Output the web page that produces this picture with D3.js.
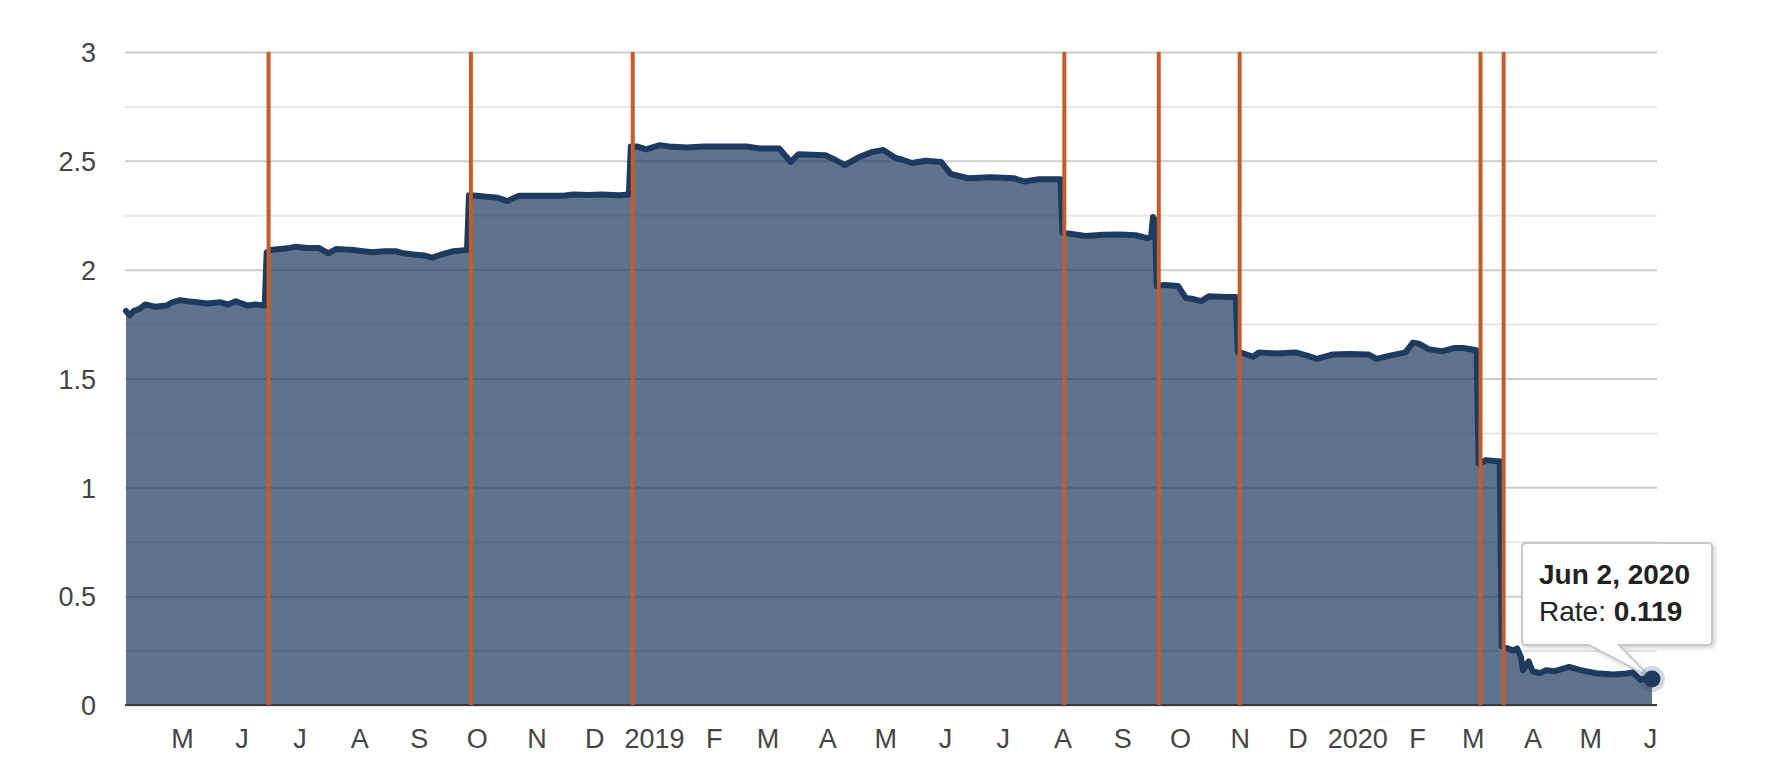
<!DOCTYPE html>
<html>
<head>
<meta charset="utf-8">
<title>Rate</title>
<script src="https://cdn.jsdelivr.net/npm/d3@7"></script>
<style>
    html, body { margin: 0; padding: 0; background: #fff; }
    #chart { width: 1772px; height: 780px; }
    .axis text { font-family: "Liberation Sans", Arial, sans-serif; font-size: 27px; fill: #444; }
    .tooltip-text { font-family: "Liberation Sans", Arial, sans-serif; font-size: 28px; fill: #222; }
</style>
</head>
<body>
<div id="chart"></div>
<script>
// ---- data ----
const rateDates = [
    "2018-04-02", "2018-04-04", "2018-04-06", "2018-04-09", "2018-04-12", "2018-04-17", "2018-04-23",
    "2018-04-26", "2018-04-30", "2018-05-04", "2018-05-09", "2018-05-14", "2018-05-21", "2018-05-25",
    "2018-05-29", "2018-06-04", "2018-06-08", "2018-06-13",
    "2018-06-14", "2018-06-16", "2018-06-21", "2018-06-26", "2018-06-29", "2018-07-05", "2018-07-11",
    "2018-07-16", "2018-07-20", "2018-07-29", "2018-08-03", "2018-08-08", "2018-08-14", "2018-08-20",
    "2018-08-24", "2018-08-29", "2018-09-04", "2018-09-08", "2018-09-13", "2018-09-19", "2018-09-26",
    "2018-09-27", "2018-10-01", "2018-10-06", "2018-10-12", "2018-10-17", "2018-10-23", "2018-10-31",
    "2018-11-09", "2018-11-15", "2018-11-20", "2018-11-28", "2018-12-05", "2018-12-14", "2018-12-19",
    "2018-12-20", "2018-12-23", "2018-12-28", "2019-01-04", "2019-01-09", "2019-01-18", "2019-01-27",
    "2019-02-05", "2019-02-18", "2019-02-25", "2019-03-07", "2019-03-13", "2019-03-17", "2019-03-24",
    "2019-03-31", "2019-04-05", "2019-04-10", "2019-04-17", "2019-04-24", "2019-04-30", "2019-05-06",
    "2019-05-10", "2019-05-15", "2019-05-22", "2019-05-30", "2019-06-04", "2019-06-13", "2019-06-25",
    "2019-07-07", "2019-07-12", "2019-07-20", "2019-07-31",
    "2019-08-01", "2019-08-04", "2019-08-13", "2019-08-22", "2019-08-31", "2019-09-08", "2019-09-14",
    "2019-09-16", "2019-09-17", "2019-09-18",
    "2019-09-19", "2019-09-23", "2019-09-30", "2019-10-04", "2019-10-08", "2019-10-12", "2019-10-16",
    "2019-10-25", "2019-10-30",
    "2019-10-31", "2019-11-03", "2019-11-08", "2019-11-11", "2019-11-20", "2019-11-30", "2019-12-06",
    "2019-12-11", "2019-12-19", "2019-12-28", "2020-01-07", "2020-01-11", "2020-01-18", "2020-01-26",
    "2020-01-30", "2020-02-02", "2020-02-07", "2020-02-14", "2020-02-20", "2020-02-25", "2020-03-03",
    "2020-03-04", "2020-03-08", "2020-03-13", "2020-03-15",
    "2020-03-16", "2020-03-19", "2020-03-22", "2020-03-24", "2020-03-26", "2020-03-27", "2020-03-30",
    "2020-04-01", "2020-04-05", "2020-04-08", "2020-04-12", "2020-04-16", "2020-04-20", "2020-04-26",
    "2020-05-04", "2020-05-13", "2020-05-20", "2020-05-23", "2020-05-27", "2020-05-30", "2020-06-02"
];

const rateValues = [
    1.81, 1.79, 1.81, 1.82, 1.84, 1.83, 1.835,
    1.85, 1.86, 1.855, 1.85, 1.845, 1.85, 1.84,
    1.855, 1.835, 1.84, 1.835,
    2.08, 2.09, 2.095, 2.10, 2.105, 2.10, 2.10,
    2.075, 2.095, 2.09, 2.085, 2.08, 2.085, 2.085,
    2.075, 2.07, 2.065, 2.055, 2.07, 2.085, 2.09,
    2.342, 2.34, 2.335, 2.33, 2.315, 2.34, 2.34,
    2.34, 2.34, 2.345, 2.343, 2.345, 2.342, 2.345,
    2.566, 2.566, 2.553, 2.572, 2.566, 2.561, 2.566,
    2.566, 2.566, 2.557, 2.557, 2.495, 2.53, 2.528,
    2.526, 2.505, 2.48, 2.515, 2.54, 2.55, 2.515,
    2.505, 2.49, 2.50, 2.495, 2.44, 2.42, 2.425,
    2.42, 2.405, 2.415, 2.415,
    2.17, 2.166, 2.155, 2.16, 2.162, 2.158, 2.145,
    2.15, 2.242, 2.23,
    1.925, 1.93, 1.925, 1.87, 1.865, 1.855, 1.878,
    1.875, 1.875,
    1.622, 1.615, 1.60, 1.62, 1.615, 1.62, 1.605,
    1.59, 1.61, 1.612, 1.61, 1.59, 1.605, 1.62,
    1.665, 1.66, 1.635, 1.625, 1.64, 1.64, 1.63,
    1.11, 1.125, 1.12, 1.12,
    0.27, 0.26, 0.25, 0.26, 0.22, 0.16, 0.20,
    0.155, 0.146, 0.16, 0.155, 0.165, 0.175, 0.16,
    0.146, 0.14, 0.145, 0.15, 0.115, 0.125, 0.119
];

// vertical markers where the rate was changed
const rateChangeDates = [
    "2018-06-15", "2018-09-28", "2018-12-21", "2019-08-02",
    "2019-09-20", "2019-11-01", "2020-03-05", "2020-03-17"
];

const yMajorTicks = [0, 0.5, 1, 1.5, 2, 2.5, 3];
const yMinorTicks = [0.25, 0.75, 1.25, 1.75, 2.25, 2.75];
const yDomain = [0, 3];

class RateChart {
    constructor(parentElement, dates, values, markers) {
        this.parentElement = parentElement;
        this.dates = dates;
        this.values = values;
        this.markers = markers;

        this.config = {
            width: 1772,
            height: 780,
            margin: { top: 52, right: 115, bottom: 75, left: 125 },
            lineColor: '#1f3a5f',
            markerColor: '#c45c2c'
        };

        this.initVis();
    }

    initVis() {
        let vis = this;
        const m = vis.config.margin;

        vis.width = vis.config.width - m.left - m.right;
        vis.height = vis.config.height - m.top - m.bottom;

        vis.svg = d3.select('#' + vis.parentElement).append('svg')
            .attr('width', vis.config.width)
            .attr('height', vis.config.height);

        // soft shadow for the tooltip
        const filter = vis.svg.append('defs').append('filter')
            .attr('id', 'tip-shadow')
            .attr('x', '-20%').attr('y', '-20%')
            .attr('width', '140%').attr('height', '150%');
        filter.append('feDropShadow')
            .attr('dx', 2).attr('dy', 2)
            .attr('stdDeviation', 2)
            .attr('flood-color', '#000')
            .attr('flood-opacity', 0.18);

        vis.chart = vis.svg.append('g')
            .attr('transform', `translate(${m.left},${m.top})`);

        // scales
        vis.xScale = d3.scaleUtc().range([1, vis.width - 5]);
        vis.yScale = d3.scaleLinear().domain(yDomain).range([vis.height, 0]);

        // gridlines (minor first, then major with labels)
        vis.minorGridG = vis.chart.append('g').attr('class', 'grid minor');
        vis.yAxisG = vis.chart.append('g').attr('class', 'axis y-axis');
        vis.xAxisG = vis.chart.append('g')
            .attr('class', 'axis x-axis')
            .attr('transform', `translate(0,${vis.height})`);

        vis.areaPath = vis.chart.append('path').attr('class', 'area');
        vis.linePath = vis.chart.append('path').attr('class', 'line');
        vis.baseLine = vis.chart.append('line').attr('class', 'base-line');
        vis.markerG = vis.chart.append('g').attr('class', 'markers');
        vis.tooltipG = vis.chart.append('g').attr('class', 'tooltip');
        vis.pointG = vis.chart.append('g').attr('class', 'hover-point');

        vis.wrangleData();
    }

    wrangleData() {
        let vis = this;
        const parse = d3.utcParse('%Y-%m-%d');

        vis.displayData = vis.dates.map((d, i) => ({ date: parse(d), value: vis.values[i] }));
        vis.markerData = vis.markers.map(d => parse(d));

        vis.updateVis();
    }

    updateVis() {
        let vis = this;

        vis.xScale.domain(d3.extent(vis.displayData, d => d.date));

        const area = d3.area()
            .x(d => vis.xScale(d.date))
            .y0(vis.yScale(0))
            .y1(d => vis.yScale(d.value));

        const line = d3.line()
            .x(d => vis.xScale(d.date))
            .y(d => vis.yScale(d.value));

        vis.areaPath
            .datum(vis.displayData)
            .attr('d', area)
            .attr('fill', vis.config.lineColor)
            .attr('fill-opacity', 0.71);

        vis.linePath
            .datum(vis.displayData)
            .attr('d', line)
            .attr('fill', 'none')
            .attr('stroke', vis.config.lineColor)
            .attr('stroke-width', 6)
            .attr('stroke-linejoin', 'round')
            .attr('stroke-linecap', 'round');

        vis.baseLine
            .attr('x1', 0).attr('x2', vis.width)
            .attr('y1', vis.yScale(0)).attr('y2', vis.yScale(0))
            .attr('stroke', '#3a3a3a')
            .attr('stroke-width', 2);

        // rate change markers
        vis.markerG.selectAll('line')
            .data(vis.markerData)
            .join('line')
            .attr('x1', d => vis.xScale(d))
            .attr('x2', d => vis.xScale(d))
            .attr('y1', vis.yScale(yDomain[1]))
            .attr('y2', vis.yScale(0))
            .attr('stroke', vis.config.markerColor)
            .attr('stroke-width', 4);

        vis.renderVis();
        vis.drawTooltip(vis.displayData[vis.displayData.length - 1]);
    }

    renderVis() {
        let vis = this;

        // minor gridlines
        vis.minorGridG.call(d3.axisLeft(vis.yScale)
                .tickValues(yMinorTicks)
                .tickSize(-vis.width)
                .tickFormat(''))
            .call(g => g.select('.domain').remove())
            .selectAll('line')
            .attr('stroke', '#e6e6e6')
            .attr('stroke-width', 2);

        // major gridlines + labels
        vis.yAxisG.call(d3.axisLeft(vis.yScale)
                .tickValues(yMajorTicks)
                .tickSize(-vis.width)
                .tickPadding(29)
                .tickFormat(d3.format('')))
            .call(g => g.select('.domain').remove());
        vis.yAxisG.selectAll('line')
            .attr('stroke', '#cccccc')
            .attr('stroke-width', 2);
        vis.yAxisG.selectAll('text').attr('dy', '0.36em');

        // month labels: first letter, year on January
        const tickFormat = d => d.getUTCMonth() === 0
            ? d3.utcFormat('%Y')(d)
            : d3.utcFormat('%b')(d).charAt(0);

        vis.xAxisG.call(d3.axisBottom(vis.xScale)
                .ticks(d3.utcMonth.every(1))
                .tickSize(0)
                .tickPadding(24)
                .tickFormat(tickFormat))
            .call(g => g.select('.domain').remove());
    }

    drawTooltip(point) {
        let vis = this;
        const px = vis.xScale(point.date);
        const py = vis.yScale(point.value);

        // box sits up and to the left of the point
        const bw = 190, bh = 102, r = 4;
        const bx = px - 130, by = py - 136;
        const tailL = bx + 67, tailR = bx + 97;

        const p = d3.path();
        p.moveTo(bx + r, by);
        p.lineTo(bx + bw - r, by);
        p.quadraticCurveTo(bx + bw, by, bx + bw, by + r);
        p.lineTo(bx + bw, by + bh - r);
        p.quadraticCurveTo(bx + bw, by + bh, bx + bw - r, by + bh);
        p.lineTo(tailR, by + bh);
        p.lineTo(px - 2, py - 2);
        p.lineTo(tailL, by + bh);
        p.lineTo(bx + r, by + bh);
        p.quadraticCurveTo(bx, by + bh, bx, by + bh - r);
        p.lineTo(bx, by + r);
        p.quadraticCurveTo(bx, by, bx + r, by);
        p.closePath();

        vis.tooltipG.append('path')
            .attr('d', p.toString())
            .attr('fill', 'rgba(255,255,255,0.96)')
            .attr('stroke', '#c8c8c8')
            .attr('stroke-width', 2)
            .attr('filter', 'url(#tip-shadow)');

        const text = vis.tooltipG.append('text')
            .attr('class', 'tooltip-text')
            .attr('x', bx + 17);

        text.append('tspan')
            .attr('x', bx + 17)
            .attr('y', by + 41)
            .style('font-weight', 'bold')
            .text(d3.utcFormat('%b %-d, %Y')(point.date));

        const row = text.append('tspan')
            .attr('x', bx + 17)
            .attr('y', by + 78);
        row.append('tspan').text('Rate: ');
        row.append('tspan').style('font-weight', 'bold').text(d3.format('.3f')(point.value));

        // hovered point with halo
        vis.pointG.append('circle')
            .attr('cx', px).attr('cy', py)
            .attr('r', 13)
            .attr('fill', vis.config.lineColor)
            .attr('fill-opacity', 0.2);
        vis.pointG.append('circle')
            .attr('cx', px).attr('cy', py)
            .attr('r', 8.5)
            .attr('fill', vis.config.lineColor);
    }
}

const rateChart = new RateChart('chart', rateDates, rateValues, rateChangeDates);
</script>
</body>
</html>
